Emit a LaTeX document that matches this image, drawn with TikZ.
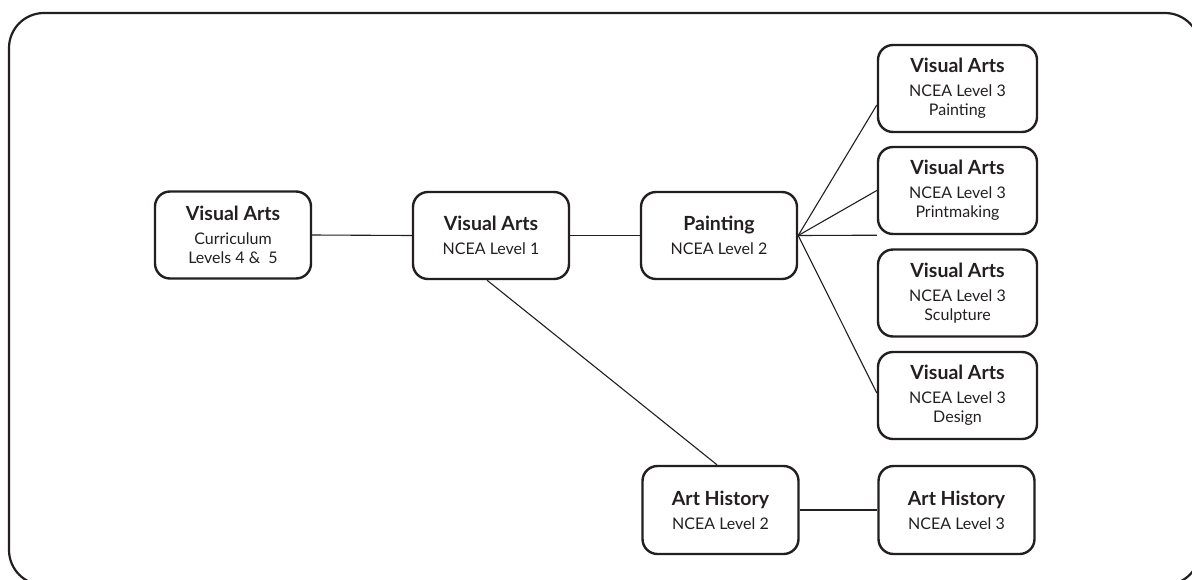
\documentclass[tikz,border=0pt]{standalone}
\usepackage{fontspec}
\setmainfont{Lato}
\usetikzlibrary{calc}
\definecolor{ink}{HTML}{231F20}
\newcommand{\ttl}[1]{{\fontsize{19.5}{19}\selectfont\bfseries #1}\\[5pt]}
\begin{document}
\begin{tikzpicture}[x=1pt,y=-1pt,
  box/.style={draw=ink, text=ink, line width=2.4pt, rounded corners=15pt,
    minimum width=156pt, minimum height=87pt, inner sep=0pt, align=center,
    font=\fontsize{16}{19}\selectfont},
  wide/.style={box, minimum width=159pt},
  link/.style={draw=ink, line width=1.1pt}]
\useasboundingbox (0,0) rectangle (1192,579);
\clip (0,0) rectangle (1192,579);
\draw[ink, line width=2.2pt, rounded corners=35pt] (9,13) rectangle (1200,585);

\node[box] (A) at (233,235) {\ttl{Visual Arts}Curriculum\\Levels 4 \&\ \ 5};
\node[box] (B) at (491,235.5) {\ttl{Visual Arts}NCEA Level 1};
\node[box] (C) at (719,235.5) {\ttl{Painting}NCEA Level 2};
\node[wide] (D1) at (957.5,88.5) {\ttl{Visual Arts}NCEA Level 3\\Painting};
\node[wide] (D2) at (957.5,190.5) {\ttl{Visual Arts}NCEA Level 3\\Printmaking};
\node[wide] (D3) at (957.5,293) {\ttl{Visual Arts}NCEA Level 3\\Sculpture};
\node[wide] (D4) at (957.5,395.5) {\ttl{Visual Arts}NCEA Level 3\\Design};
\node[box, minimum height=88pt] (E1) at (720.5,510) {\ttl{Art History}NCEA Level 2};
\node[box, minimum height=88pt] (E2) at (956.5,510) {\ttl{Art History}NCEA Level 3};

\draw[link] (A.east) -- (B.west);
\draw[link] (B.east) -- (C.west);
\draw[link] (C.east) -- ([yshift=-16.5pt]D1.west);
\draw[link] (C.east) -- (D2.west);
\draw[link] (C.east) -- (D2.south west);
\draw[link] (C.east) -- ([yshift=2.5pt]D4.west);
\draw[link] ([xshift=-4pt]B.south) -- ([xshift=-3.5pt]E1.north);
\draw[link] (E1.east) -- (E2.west);
\end{tikzpicture}
\end{document}
